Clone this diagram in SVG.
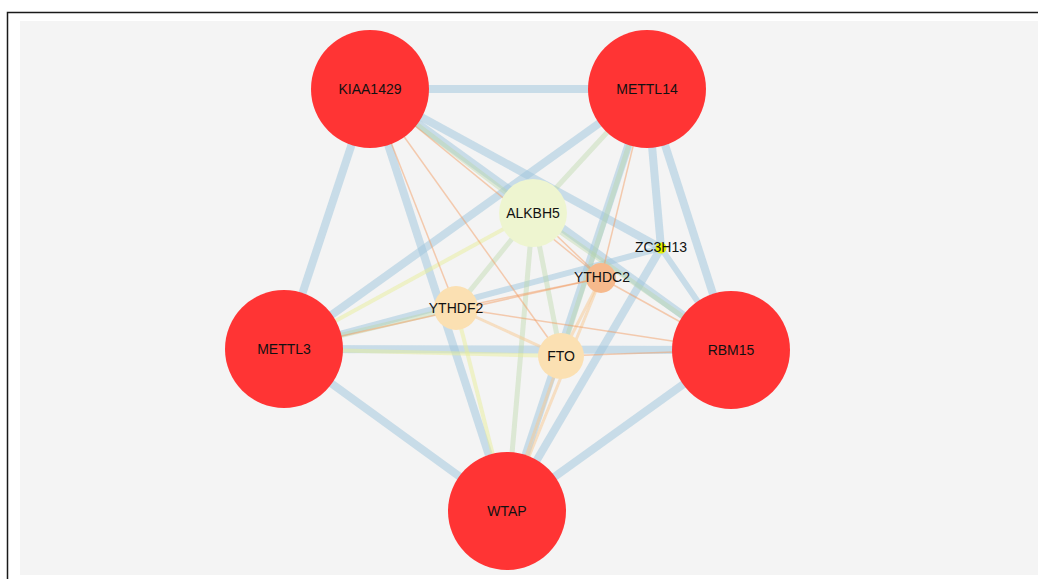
<svg xmlns="http://www.w3.org/2000/svg" width="1038" height="579" viewBox="0 0 1038 579">
<style>
.e{fill:none;stroke-linecap:butt}
.b{stroke:#9fc5dc;stroke-opacity:0.52;stroke-width:8}
.g{stroke:#b9d6a6;stroke-opacity:0.42;stroke-width:5}
.y{stroke:#e8ee9a;stroke-opacity:0.5;stroke-width:4}
.o{stroke:#f29a60;stroke-opacity:0.48;stroke-width:1.5}
.p{stroke:#f8c890;stroke-opacity:0.5;stroke-width:3}
.big{fill:#ff3434}
text{font-family:"Liberation Sans",Arial,sans-serif;font-size:14px;fill:#111111;text-anchor:middle}
</style>
<rect x="0" y="0" width="1038" height="579" fill="#ffffff"/>
<rect x="7.5" y="12.5" width="1100" height="600" fill="none" stroke="#1a1a1a" stroke-width="1.5"/>
<rect x="20" y="21" width="1018" height="554" fill="#f4f4f4"/>
<g id="edges">
<line class="e b" x1="370" y1="89" x2="647" y2="89"/>
<line class="e b" x1="370" y1="89" x2="284" y2="349"/>
<line class="e b" x1="370" y1="89" x2="507" y2="511"/>
<line class="e b" x1="370" y1="89" x2="731" y2="350"/>
<line class="e b" x1="370" y1="89" x2="661" y2="248"/>
<line class="e b" x1="647" y1="89" x2="284" y2="349"/>
<line class="e b" x1="647" y1="89" x2="507" y2="511"/>
<line class="e b" x1="647" y1="89" x2="731" y2="350"/>
<line class="e b" x1="647" y1="89" x2="661" y2="248"/>
<line class="e b" x1="284" y1="349" x2="731" y2="350"/>
<line class="e b" x1="284" y1="349" x2="507" y2="511"/>
<line class="e b" x1="731" y1="350" x2="507" y2="511"/>
<line class="e b" x1="661" y1="248" x2="507" y2="511"/>
<line class="e b" x1="661" y1="248" x2="731" y2="350" style="stroke-width:6"/>
<line class="e b" x1="284" y1="349" x2="661" y2="248" style="stroke-width:6"/>
<line class="e g" x1="370" y1="89" x2="533" y2="213"/>
<line class="e g" x1="647" y1="89" x2="533" y2="213"/>
<line class="e g" x1="533" y1="213" x2="456" y2="308"/>
<line class="e g" x1="533" y1="213" x2="561" y2="356"/>
<line class="e g" x1="533" y1="213" x2="507" y2="511"/>
<line class="e g" x1="533" y1="213" x2="731" y2="350"/>
<line class="e g" x1="284" y1="349" x2="456" y2="308"/>
<line class="e g" x1="647" y1="89" x2="561" y2="356"/>
<line class="e y" x1="533" y1="213" x2="284" y2="349"/>
<line class="e y" x1="456" y1="308" x2="507" y2="511"/>
<line class="e y" x1="284" y1="349" x2="561" y2="356"/>
<line class="e p" x1="456" y1="308" x2="561" y2="356"/>
<line class="e p" x1="561" y1="356" x2="601" y2="278"/>
<line class="e p" x1="601" y1="278" x2="507" y2="511"/>
<line class="e p" x1="561" y1="356" x2="507" y2="511"/>
<line class="e o" x1="370" y1="89" x2="456" y2="308"/>
<line class="e o" x1="370" y1="89" x2="561" y2="356"/>
<line class="e o" x1="370" y1="89" x2="601" y2="278"/>
<line class="e o" x1="647" y1="89" x2="601" y2="278"/>
<line class="e o" x1="284" y1="349" x2="601" y2="278"/>
<line class="e o" x1="456" y1="308" x2="601" y2="278"/>
<line class="e o" x1="456" y1="308" x2="731" y2="350"/>
<line class="e o" x1="601" y1="278" x2="731" y2="350"/>
<line class="e o" x1="561" y1="356" x2="731" y2="350"/>
<line class="e o" x1="533" y1="213" x2="601" y2="278"/>
</g>
<g id="node-KIAA1429"><circle class="big" cx="370" cy="89" r="59"/><text x="370" y="94">KIAA1429</text></g>
<g id="node-METTL14"><circle class="big" cx="647" cy="89" r="59"/><text x="647" y="94">METTL14</text></g>
<g id="node-METTL3"><circle class="big" cx="284" cy="349" r="59"/><text x="284" y="354">METTL3</text></g>
<g id="node-RBM15"><circle class="big" cx="731" cy="350" r="59"/><text x="731" y="355">RBM15</text></g>
<g id="node-WTAP"><circle class="big" cx="507" cy="511" r="59"/><text x="507" y="516">WTAP</text></g>
<g id="node-ALKBH5"><circle cx="533" cy="213" r="34" fill="#eef5d0"/><text x="533" y="218">ALKBH5</text></g>
<g id="node-YTHDF2"><circle cx="456" cy="308" r="22" fill="#fbe0b2"/><text x="456" y="313">YTHDF2</text></g>
<g id="node-FTO"><circle cx="561" cy="356" r="23" fill="#fbe0b2"/><text x="561" y="361">FTO</text></g>
<g id="node-YTHDC2"><circle cx="601" cy="278" r="15" fill="#f6b98c"/><text x="602" y="282">YTHDC2</text></g>
<g id="node-ZC3H13"><circle cx="661" cy="248" r="5.5" fill="#e8f200"/><text x="661" y="252">ZC3H13</text></g>
</svg>
